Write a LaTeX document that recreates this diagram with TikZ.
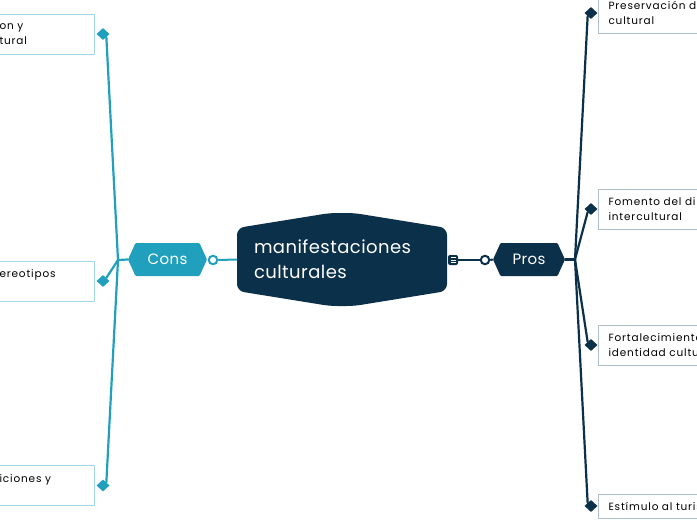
\documentclass[tikz,border=0pt]{standalone}
\usepackage{fontspec}
\setmainfont{Poppins}
\newfontfamily\childfont{Poppins}[LetterSpace=8]
\newfontfamily\mainfontls{Poppins}[LetterSpace=2.5]
\usetikzlibrary{calc,shapes.geometric}
\definecolor{navy}{HTML}{0B3049}
\definecolor{tealc}{HTML}{21A0BE}
\definecolor{lborder}{HTML}{A4D9E7}
\definecolor{rborder}{HTML}{AFC0CC}
\begin{document}
\begin{tikzpicture}[x=1pt,y=-1pt,
  mainnode/.style={minimum width=210pt, minimum height=93pt, text width=176pt,
    inner xsep=17pt, inner ysep=0pt, align=left, text=white,
    font=\mainfontls\fontsize{18}{25}\selectfont,
    path picture={\fill[navy, rounded corners=7pt]
      ($(path picture bounding box.north west)+(0pt,-15pt)$) --
      ($(path picture bounding box.north)+(-12pt,0pt)$) --
      ($(path picture bounding box.north)+(12pt,0pt)$) --
      ($(path picture bounding box.north east)+(0pt,-15pt)$) --
      ($(path picture bounding box.south east)+(0pt,15pt)$) --
      ($(path picture bounding box.south)+(12pt,0pt)$) --
      ($(path picture bounding box.south)+(-12pt,0pt)$) --
      ($(path picture bounding box.south west)+(0pt,15pt)$) -- cycle;}},
  hexa/.style={minimum height=33pt, inner sep=0pt, text=white,
    font=\mainfontls\fontsize{15}{18}\selectfont,
    path picture={\fill[#1, rounded corners=1pt]
      (path picture bounding box.west) --
      ($(path picture bounding box.north west)+(7.5pt,0pt)$) --
      ($(path picture bounding box.north east)+(-7.5pt,0pt)$) --
      (path picture bounding box.east) --
      ($(path picture bounding box.south east)+(-7.5pt,0pt)$) --
      ($(path picture bounding box.south west)+(7.5pt,0pt)$) -- cycle;}},
  ring/.style={circle, draw=#1, line width=2pt, fill=white, minimum size=8.5pt, inner sep=0pt},
  notebox/.style={minimum width=10pt, minimum height=10pt, inner sep=0pt,
    fill=navy, rounded corners=2pt,
    path picture={\draw[white, line width=0.8pt]
      ($(path picture bounding box.center)+(-2.5pt,2.3pt)$) -- ++(5pt,0pt)
      ($(path picture bounding box.center)+(-2.5pt,0pt)$) -- ++(5pt,0pt)
      ($(path picture bounding box.center)+(-2.5pt,-2.3pt)$) -- ++(5pt,0pt);}},
  lbox/.style={draw=lborder, line width=1pt, fill=white, anchor=east,
    text width=85pt, inner xsep=10pt, minimum height=40pt, align=left,
    font=\childfont\fontsize{10.5}{14.5}\selectfont},
  rbox/.style={draw=rborder, line width=1pt, fill=white, anchor=west,
    text width=150pt, inner xsep=10pt, minimum height=40pt, align=left,
    font=\childfont\fontsize{10.5}{14.5}\selectfont},
  dia/.style={diamond, fill=#1, minimum width=13pt, minimum height=12pt, inner sep=0pt},
  lline/.style={draw=tealc, line width=2.2pt, line cap=round},
  rline/.style={draw=navy, line width=2.2pt, line cap=round}
]
\useasboundingbox (0,0) rectangle (697,520);
\clip (0,0) rectangle (697,520);
\fill[white] (0,0) rectangle (697,520);

% central
\node[mainnode] (main) at (342,259.5) {manifestaciones\\culturales};

% cons side
\node[hexa=tealc, minimum width=79pt] (cons) at (167.5,259.5) {Cons};
\node[ring=tealc] (ccirc) at (213,260) {};
\draw[tealc, line width=2pt] (ccirc.east) -- (main.west);

% pros side
\node[notebox] (note) at (453,260) {};
\node[ring=navy] (pcirc) at (485,260) {};
\node[hexa=navy, minimum width=72pt] (pros) at (529,259.5) {Pros};
\draw[navy, line width=2pt] (note.east) -- (pcirc.west);
\draw[navy, line width=2pt] (pcirc.east) -- (pros.west);

% left boxes
\node[lbox] (lb1) at (95,34) {on y\\tural};
\node[lbox] (lb2) at (95,281) {ereotipos\\\mbox{}};
\node[lbox] (lb3) at (95,485.5) {iciones y\\\mbox{}};
\node[dia=tealc] (ld1) at ($(lb1.east)+(8pt,0pt)$) {};
\node[dia=tealc] (ld2) at ($(lb2.east)+(8pt,0pt)$) {};
\node[dia=tealc] (ld3) at ($(lb3.east)+(8pt,0pt)$) {};

% right boxes
\node[rbox] (rb1) at (598,13) {Preservación d\\cultural};
\node[rbox] (rb2) at (598,209) {Fomento del di\\intercultural};
\node[rbox] (rb3) at (598,345) {Fortalecimiento\\identidad cultu};
\node[rbox, minimum height=24pt] (rb4) at (598,506) {Estímulo al turis};
\node[dia=navy] (rd1) at ($(rb1.west)+(-7pt,0pt)$) {};
\node[dia=navy] (rd2) at ($(rb2.west)+(-7pt,0pt)$) {};
\node[dia=navy] (rd3) at ($(rb3.west)+(-7pt,0pt)$) {};
\node[dia=navy] (rd4) at ($(rb4.west)+(-7pt,0pt)$) {};

% left connectors
\coordinate (lf) at (118,260);
\draw[lline] (cons.west) -- (lf);
\draw[lline] (lf) -- (ld1.south east);
\draw[lline] (lf) -- (ld2.north east);
\draw[lline] (lf) -- (ld3.north east);

% right connectors
\coordinate (rf) at (575,259.5);
\draw[rline] (pros.east) -- (rf);
\draw[rline] (rf) -- (rd1.south west);
\draw[rline] (rf) -- (rd2.south west);
\draw[rline] (rf) -- (rd3.north west);
\draw[rline] (rf) -- (rd4.north west);
\end{tikzpicture}
\end{document}
